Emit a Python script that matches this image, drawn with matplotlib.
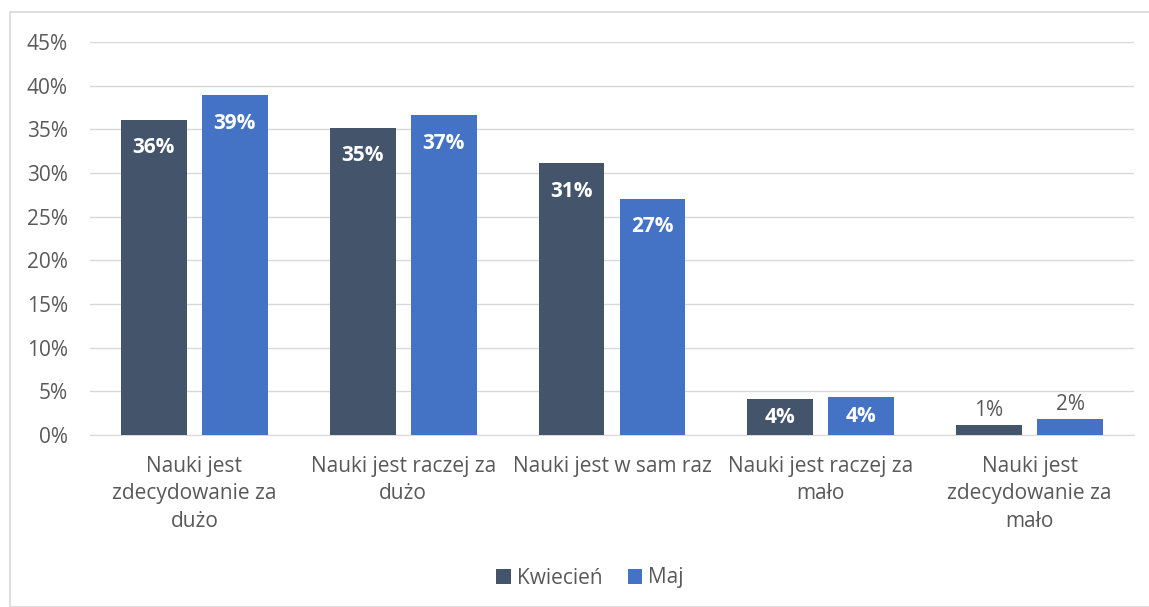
import matplotlib
matplotlib.use('Agg')
import matplotlib.pyplot as plt
import numpy as np
from matplotlib.patches import Rectangle

plt.rcParams['font.family'] = ['Open Sans', 'DejaVu Sans']

categories = ['Nauki jest\nzdecydowanie za\ndużo', 'Nauki jest raczej za\ndużo',
              'Nauki jest w sam raz', 'Nauki jest raczej za\nmało',
              'Nauki jest\nzdecydowanie za\nmało']
kwiecien = [36.1, 35.2, 31.1, 4.1, 1.15]
maj = [38.9, 36.6, 27.0, 4.35, 1.8]
kw_labels = ['36%', '35%', '31%', '4%', '1%']
maj_labels = ['39%', '37%', '27%', '4%', '2%']

col_kw = '#44546a'
col_maj = '#4472c4'
text_col = '#595959'
fs = 15

W, H = 1149, 607
fig = plt.figure(figsize=(W / 100, H / 100), dpi=100)
fig.patches.append(Rectangle((10 / W, 0), 1.2, 1 - 12 / H, transform=fig.transFigure,
                             fill=False, edgecolor='#d9d9d9', lw=1.2))
ax = fig.add_axes([90 / W, 1 - 435 / H, 1044 / W, (435 - 42) / H])

x = np.arange(len(categories))
bw = 0.316
off = 0.194
b1 = ax.bar(x - off, kwiecien, bw, color=col_kw, label='Kwiecień', zorder=3)
b2 = ax.bar(x + off, maj, bw, color=col_maj, label='Maj', zorder=3)

for bars, labs in ((b1, kw_labels), (b2, maj_labels)):
    for rect, lab in zip(bars, labs):
        h = rect.get_height()
        cx = rect.get_x() + rect.get_width() / 2
        if h > 3:
            dy = -min(20, h * 8.733 * 0.72 / 2)
            ax.annotate(lab, (cx, h), xytext=(0, dy), textcoords='offset points',
                        ha='center', va='center', color='white', fontsize=fs,
                        fontweight='bold', zorder=4)
        else:
            ax.annotate(lab, (cx, h), xytext=(0, 3), textcoords='offset points',
                        ha='center', va='bottom', color=text_col, fontsize=fs, zorder=4)

ax.set_xlim(-0.5, len(categories) - 0.5)
ax.set_ylim(0, 45)
ax.set_yticks(np.arange(0, 46, 5))
ax.set_yticklabels([f'{v}%' for v in range(0, 46, 5)])
ax.set_xticks(x)
ax.set_xticklabels(categories, linespacing=1.4)
ax.tick_params(axis='both', length=0, labelsize=fs, colors=text_col)
ax.tick_params(axis='y', pad=16)
ax.tick_params(axis='x', pad=15)
ax.grid(axis='y', color='#d9d9d9', lw=1, zorder=0)
for s in ['top', 'right', 'left']:
    ax.spines[s].set_visible(False)
ax.spines['bottom'].set_color('#d9d9d9')

fig.legend(handles=[b1, b2], loc='center', bbox_to_anchor=(590 / W, 1 - 578 / H), ncol=2,
           frameon=False, fontsize=fs, labelcolor=text_col, handlelength=0.7,
           handleheight=0.7, handletextpad=0.3, columnspacing=1.2)

fig.savefig('out.png', dpi=100)
